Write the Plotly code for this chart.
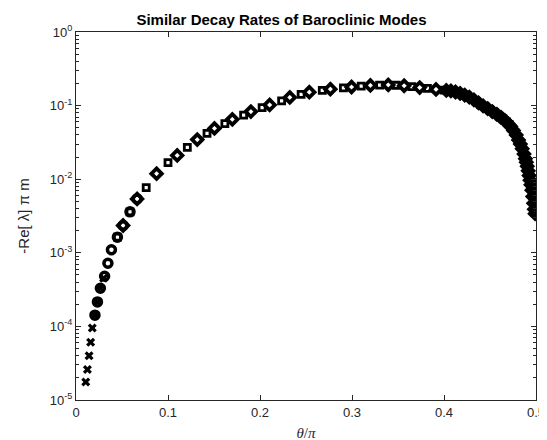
import plotly.graph_objects as go

# ---- data ----
theta_x = [0.0106, 0.0124, 0.0142, 0.0159, 0.0177, 0.0206, 0.0233, 0.0265, 0.0300]
val_x = [1.76e-5, 2.6e-5, 4.0e-5, 6.1e-5, 9.5e-5, 1.42e-4, 2.15e-4, 3.3e-4, 4.5e-4]

theta_o = [0.0206, 0.0233, 0.0265, 0.0311, 0.0347, 0.0385, 0.0450, 0.0512, 0.0587, 0.0664]
val_o = [1.42e-4, 2.15e-4, 3.3e-4, 4.8e-4, 7.2e-4, 1.1e-3, 1.63e-3, 2.35e-3, 3.6e-3, 5.4e-3]

theta_d = [0.0512, 0.0664, 0.0876, 0.1100, 0.1318, 0.1505, 0.1699, 0.1901, 0.2105,
           0.2324, 0.2536, 0.2765, 0.2995, 0.3200, 0.3394, 0.3567, 0.3736, 0.3913,
           0.4025, 0.4075, 0.4125, 0.4175, 0.4225, 0.4275, 0.4325, 0.4375, 0.4425,
           0.4475, 0.4525, 0.4575, 0.4620, 0.4660, 0.4695, 0.4725, 0.4755, 0.4785,
           0.4810, 0.4830, 0.4850, 0.4870, 0.4885, 0.4895, 0.4905, 0.4915, 0.4925,
           0.4935, 0.4945, 0.4955, 0.4965, 0.4974, 0.4982, 0.4990]
val_d = [2.35e-3, 5.4e-3, 0.0119, 0.0210, 0.0345, 0.0490, 0.0650, 0.0830, 0.1020,
         0.1290, 0.1520, 0.1670, 0.1790, 0.1880, 0.1910, 0.1860, 0.1760, 0.1660,
         0.1610, 0.1580, 0.1530, 0.1470, 0.1390, 0.1300, 0.1200, 0.1090, 0.0990,
         0.0910, 0.0830, 0.0760, 0.0690, 0.0630, 0.0570, 0.0520, 0.0460, 0.0400,
         0.0340, 0.0300, 0.0260, 0.0220, 0.0190, 0.0170, 0.0150, 0.0130, 0.0112,
         0.0097, 0.0084, 0.0071, 0.0058, 0.0047, 0.0039, 0.0034]

theta_s = [0.0450, 0.0587, 0.0763, 0.1000, 0.1210, 0.1424, 0.1618, 0.1822, 0.2023,
           0.2235, 0.2447, 0.2677, 0.2907, 0.3100, 0.3300, 0.3480, 0.3650, 0.3820,
           0.4000, 0.4050, 0.4100, 0.4150, 0.4200, 0.4250, 0.4300, 0.4350, 0.4400,
           0.4450, 0.4500, 0.4550, 0.4600, 0.4640, 0.4680, 0.4710, 0.4740, 0.4770,
           0.4800, 0.4820, 0.4840, 0.4860, 0.4880, 0.4890, 0.4900, 0.4910, 0.4920,
           0.4930, 0.4940, 0.4950, 0.4960, 0.4970, 0.4978, 0.4986]
val_s = [1.63e-3, 3.6e-3, 7.7e-3, 0.0168, 0.0270, 0.0420, 0.0570, 0.0740, 0.0940,
         0.1160, 0.1420, 0.1610, 0.1740, 0.1840, 0.1900, 0.1890, 0.1810, 0.1710,
         0.1620, 0.1600, 0.1560, 0.1510, 0.1430, 0.1350, 0.1250, 0.1140, 0.1030,
         0.0950, 0.0870, 0.0800, 0.0720, 0.0660, 0.0600, 0.0550, 0.0490, 0.0430,
         0.0360, 0.0320, 0.0280, 0.0240, 0.0200, 0.0180, 0.0160, 0.0140, 0.0120,
         0.0104, 0.0090, 0.0078, 0.0064, 0.0052, 0.0043, 0.0036]

x_ticks = [0, 0.1, 0.2, 0.3, 0.4, 0.5]
x_tick_labels = ["0", "0.1", "0.2", "0.3", "0.4", "0.5"]
y_ticks = [1e-5, 1e-4, 1e-3, 1e-2, 1e-1, 1e0]
y_tick_labels = ["10<sup>-5</sup>", "10<sup>-4</sup>", "10<sup>-3</sup>",
                 "10<sup>-2</sup>", "10<sup>-1</sup>", "10<sup>0</sup>"]

BLACK = "#000000"
AX = "#262626"

fig = go.Figure()
fig.add_trace(go.Scatter(x=theta_x, y=val_x, mode="markers",
                         marker=dict(symbol="x", size=8, color=BLACK, line=dict(width=0))))
fig.add_trace(go.Scatter(x=theta_o, y=val_o, mode="markers",
                         marker=dict(symbol="circle-open", size=8, color=BLACK, line=dict(width=3.5))))
fig.add_trace(go.Scatter(x=theta_d, y=val_d, mode="markers",
                         marker=dict(symbol="diamond-open", size=8, color=BLACK, line=dict(width=3.8))))
fig.add_trace(go.Scatter(x=theta_s, y=val_s, mode="markers",
                         marker=dict(symbol="square-open", size=6, color=BLACK, line=dict(width=2.8))))

fig.update_layout(
    width=547, height=440,
    margin=dict(l=68, r=10, t=24, b=46),
    paper_bgcolor="white", plot_bgcolor="white",
    showlegend=False,
    font=dict(family="Liberation Sans, Arial, sans-serif", color=AX, size=13),
    title=dict(text="<b>Similar Decay Rates of Baroclinic Modes</b>",
               x=0.5, xref="container", y=1 - 12 / 440, yref="container",
               xanchor="center", yanchor="middle",
               font=dict(size=15, color=BLACK, family="Liberation Sans, Arial, sans-serif")),
)
fig.update_xaxes(range=[0, 0.5], tickvals=x_ticks, ticktext=x_tick_labels,
                 showline=True, linecolor=AX, linewidth=1, mirror="ticks",
                 ticks="inside", ticklen=5, tickcolor=AX, showgrid=False, zeroline=False,
                 title=dict(text="<i>θ</i>/<i>π</i>",
                            font=dict(family="Liberation Serif, DejaVu Serif, serif", size=15),
                            standoff=8))
fig.update_yaxes(type="log", range=[-5, 0], tickvals=y_ticks, ticktext=y_tick_labels,
                 showline=True, linecolor=AX, linewidth=1, mirror="ticks",
                 ticks="inside", ticklen=5, tickcolor=AX, showgrid=False, zeroline=False,
                 minor=dict(ticks="inside", ticklen=3, tickcolor=AX, dtick="D1", showgrid=False),
                 title=dict(text="-Re[ λ] π m", font=dict(size=15), standoff=16))

fig.write_html("out.html")
